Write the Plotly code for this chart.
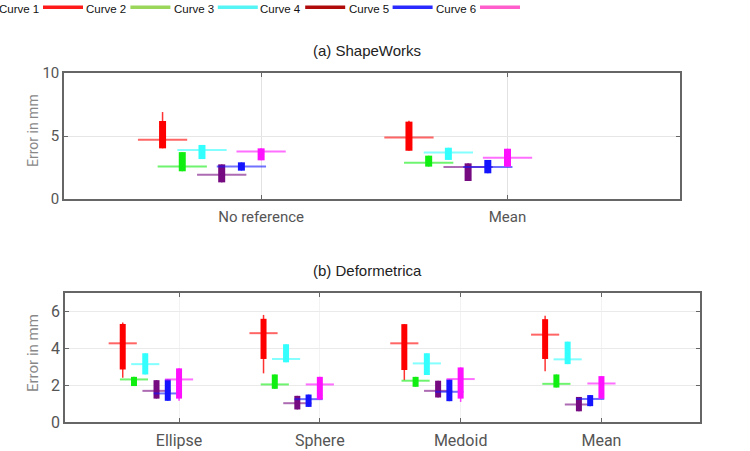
import plotly.graph_objects as go

W, H = 750, 451

curve_names = ["Curve 1", "Curve 2", "Curve 3", "Curve 4", "Curve 5", "Curve 6"]
box_colors = ["#ff0000", "#11ee11", "#33ffff", "#760a80", "#1414ff", "#ff10ff"]
legend_colors = ["#ff1a1a", "#99d65a", "#55f5f5", "#b00a0a", "#2a2aff", "#ff5ccc"]

# (a) ShapeWorks, one list per curve, one value per group
a_groups = ["No reference", "Mean"]
a_median = [[4.70, 4.89], [2.57, 2.88], [3.89, 3.70], [1.93, 2.54], [2.57, 2.54], [3.76, 3.28]]
a_q1 = [[4.02, 3.83], [2.20, 2.57], [3.17, 3.10], [1.32, 1.43], [2.25, 2.04], [3.07, 2.57]]
a_q3 = [[6.19, 6.14], [3.72, 3.44], [4.29, 4.07], [2.75, 2.83], [2.91, 3.10], [4.02, 3.99]]
a_lo = [[4.02, 3.83], [2.20, 2.57], [3.17, 3.10], [1.32, 1.43], [2.25, 2.04], [3.07, 2.57]]
a_hi = [[6.90, 6.22], [3.72, 3.44], [4.29, 4.07], [2.75, 2.83], [2.91, 3.10], [4.02, 3.99]]

# (b) Deformetrica
b_groups = ["Ellipse", "Sphere", "Medoid", "Mean"]
b_median = [[4.27, 4.82, 4.27, 4.74], [2.31, 2.04, 2.24, 2.07], [3.14, 3.42, 3.18, 3.40],
            [1.69, 1.02, 1.69, 0.95], [1.55, 1.24, 1.64, 1.25], [2.31, 2.04, 2.33, 2.09]]
b_q1 = [[2.85, 3.42, 2.82, 3.42], [1.95, 1.80, 1.91, 1.87], [2.58, 3.24, 2.55, 3.14],
        [1.27, 0.68, 1.33, 0.58], [1.15, 0.82, 1.13, 0.86], [1.27, 1.22, 1.27, 1.27]]
b_q3 = [[5.32, 5.60, 5.31, 5.58], [2.45, 2.58, 2.45, 2.58], [3.73, 4.22, 3.73, 4.36],
        [2.27, 1.42, 2.24, 1.36], [2.31, 1.49, 2.31, 1.46], [2.91, 2.45, 2.96, 2.49]]
b_lo = [[2.40, 2.64, 2.27, 2.76], [1.95, 1.80, 1.91, 1.87], [2.58, 3.24, 2.55, 3.14],
        [1.27, 0.68, 1.33, 0.58], [1.15, 0.82, 1.13, 0.86], [1.15, 1.22, 1.09, 1.27]]
b_hi = [[5.40, 5.81, 5.31, 5.76], [2.45, 2.58, 2.45, 2.58], [3.73, 4.22, 3.73, 4.36],
        [2.27, 1.42, 2.24, 1.36], [2.31, 1.49, 2.31, 1.46], [2.91, 2.45, 2.96, 2.49]]

offsets = [-0.4, -0.32, -0.24, -0.16, -0.08, 0.0]
half = 0.1

fig = go.Figure()


def add_panel(xa, ya, groups, med, q1, q3, lo, hi, box_w):
    for k in range(len(curve_names)):
        wx, wy, bx, by, mx, my = [], [], [], [], [], []
        for g in range(len(groups)):
            p = g + 1 + offsets[k]
            wx += [p, p, None]
            wy += [lo[k][g], hi[k][g], None]
            bx += [p, p, None]
            by += [q1[k][g], q3[k][g], None]
            mx += [p - half, p + half, None]
            my += [med[k][g], med[k][g], None]
        c = box_colors[k]
        fig.add_trace(go.Scatter(x=mx, y=my, mode="lines", xaxis=xa, yaxis=ya,
                                 line=dict(color=c, width=2), opacity=0.6,
                                 showlegend=False, hoverinfo="skip"))
        fig.add_trace(go.Scatter(x=wx, y=wy, mode="lines", xaxis=xa, yaxis=ya,
                                 line=dict(color=c, width=1.5), opacity=0.8,
                                 showlegend=False, hoverinfo="skip"))
        fig.add_trace(go.Scatter(x=bx, y=by, mode="lines", xaxis=xa, yaxis=ya,
                                 line=dict(color=c, width=box_w),
                                 name=curve_names[k], showlegend=False))


add_panel("x", "y", a_groups, a_median, a_q1, a_q3, a_lo, a_hi, 7)
add_panel("x2", "y2", b_groups, b_median, b_q1, b_q3, b_lo, b_hi, 6)

tick_font = dict(family="Roboto, sans-serif", size=15, color="#555555")
axis_common = dict(showline=True, linecolor="#666666", linewidth=1.5, mirror="ticks",
                   ticks="inside", ticklen=4, tickcolor="#666666", automargin=False,
                   zeroline=False, tickfont=tick_font)

fig.update_layout(
    width=W, height=H,
    margin=dict(l=0, r=0, t=0, b=0),
    paper_bgcolor="white", plot_bgcolor="white",
    showlegend=False,
    xaxis=dict(domain=[64 / W, 680 / W], range=[0.2, 2.7], tickvals=[1, 2], ticktext=a_groups,
               showgrid=True, gridcolor="#e2e2e2", anchor="y", **axis_common),
    yaxis=dict(domain=[1 - 199 / H, 1 - 73 / H], range=[0, 10], tickvals=[0, 5, 10],
               showgrid=True, gridcolor="#e6e6e6", anchor="x", **axis_common),
    xaxis2=dict(domain=[65 / W, 700 / W], range=[0.19, 4.7], tickvals=[1, 2, 3, 4], ticktext=b_groups,
                showgrid=True, gridcolor="#f2f2f2", anchor="y2", **axis_common),
    yaxis2=dict(domain=[1 - 422 / H, 1 - 293 / H], range=[0, 7], tickvals=[0, 2, 4, 6],
                showgrid=True, gridcolor="#eaeaea", anchor="x2", **axis_common),
)
fig.update_xaxes(ticklabelstandoff=3)
fig.update_layout(xaxis2_tickfont_size=16, yaxis2_tickfont_size=16)

title_font = dict(family="Liberation Sans, Arial", size=15, color="#222222")
ylab_font = dict(family="Roboto, sans-serif", size=14, color="#888888")
ann = []
ann.append(dict(text="(a) ShapeWorks", x=367 / W, y=1 - 51 / H, font=title_font))
ann.append(dict(text="(b) Deformetrica", x=367 / W, y=1 - 270 / H, font=title_font))
ann.append(dict(text="Error in mm", x=33 / W, y=1 - 131 / H, textangle=-90, font=ylab_font))
ann.append(dict(text="Error in mm", x=33 / W, y=1 - 353 / H, textangle=-90,
                font=dict(ylab_font, size=15)))

# legend drawn by hand: label left of the line
shapes = []
step = 87.4
for k, name in enumerate(curve_names):
    x0 = 3 + k * step
    ann.append(dict(text=name, x=(x0 + 38) / W, y=1 - 9 / H, xanchor="right",
                    font=dict(family="Liberation Sans, Arial", size=11.5, color="#111111")))
    shapes.append(dict(type="line", xref="paper", yref="paper",
                       x0=(x0 + 40) / W, x1=(x0 + 80) / W, y0=1 - 7.3 / H, y1=1 - 7.3 / H,
                       line=dict(color=legend_colors[k], width=3.5)))

for a in ann:
    a.update(xref="paper", yref="paper", showarrow=False, yanchor="middle")
    a.setdefault("xanchor", "center")

fig.update_layout(annotations=ann, shapes=shapes)

# the page's default 8px body margin would shift the whole figure
fig.write_html("out.html", config={"displayModeBar": False},
               post_script="document.body.style.margin='0px';")
